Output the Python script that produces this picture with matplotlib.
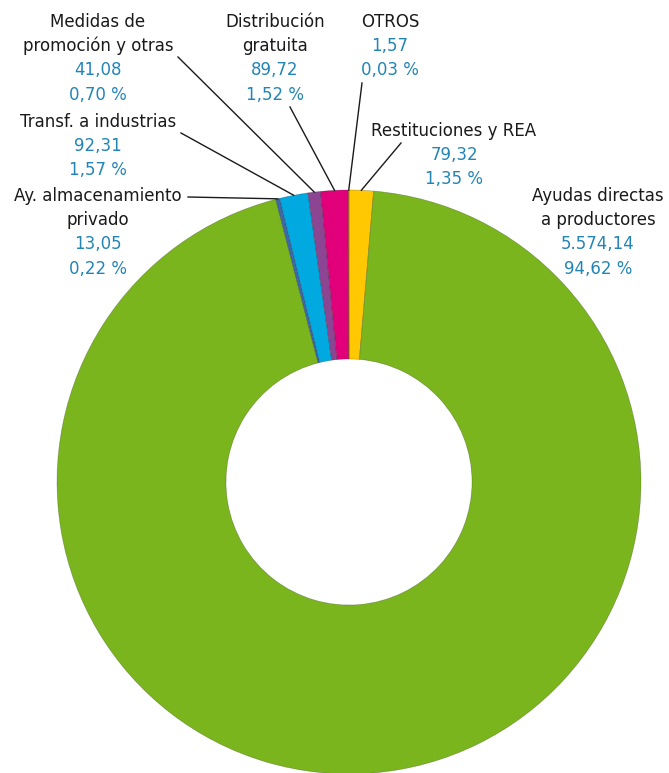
import numpy as np
import matplotlib
matplotlib.use("Agg")
import matplotlib.pyplot as plt

# ---- data (clockwise from 12 o'clock) ----
categories = ["Restituciones y REA", "Ayudas directas\na productores", "Ay. almacenamiento\nprivado",
              "Transf. a industrias", "Medidas de\npromoción y otras", "Distribución\ngratuita", "OTROS"]
values = [79.32, 5574.14, 13.05, 92.31, 41.08, 89.72, 1.57]
value_labels = ["79,32", "5.574,14", "13,05", "92,31", "41,08", "89,72", "1,57"]
pct_labels = ["1,35 %", "94,62 %", "0,22 %", "1,57 %", "0,70 %", "1,52 %", "0,03 %"]
colors = ["#FFC800", "#7AB51D", "#3D68AA", "#00A9E0", "#8B4592", "#E2007A", "#F39200"]

W, H = 669, 773
fig = plt.figure(figsize=(W / 100, H / 100), dpi=100)
ax = fig.add_axes([0, 0, 1, 1])
ax.set_xlim(0, W)
ax.set_ylim(0, H)
ax.set_aspect("equal")
ax.axis("off")

cx, cy_top = 349, 482
cy = H - cy_top
R = 292
wedges, _ = ax.pie(values, colors=colors, startangle=90, counterclock=False,
                   center=(cx, cy), radius=R,
                   wedgeprops=dict(width=R - 123, edgecolor=(0, 0, 0, 0.25), linewidth=0.5))
ax.set_xlim(0, W)
ax.set_ylim(0, H)

FONT = ["DejaVu Sans"]
FS = 12.0
black = "#1a1a1a"
blue = "#2385B5"

# label layout: (x center, y of first line from top), line end (x,y from top) or None
layout = [
    (454, 131, (401, 143)),
    (598, 196, None),
    (98, 196, (188, 197)),
    (98, 122, (181, 133)),
    (98, 22, (178, 57)),
    (275, 22, (290, 107)),
    (390, 22, (362, 83)),
]
step = 24.2
for w, cat, v, p, (lx, ly, line) in zip(wedges, categories, value_labels, pct_labels, layout):
    lines = cat.split("\n")
    y = ly
    for t in lines:
        ax.text(lx, H - y, t, ha="center", va="center", fontsize=FS, color=black, family=FONT)
        y += step
    for t in (v, p):
        ax.text(lx, H - y, t, ha="center", va="center", fontsize=FS, color=blue, family=FONT)
        y += step
    if line is not None:
        mid = np.deg2rad((w.theta1 + w.theta2) / 2)
        ex, ey = cx + R * np.cos(mid), cy + R * np.sin(mid)
        ax.plot([line[0], ex], [H - line[1], ey], color=black, lw=1.0)

fig.savefig("out.png", dpi=100)
